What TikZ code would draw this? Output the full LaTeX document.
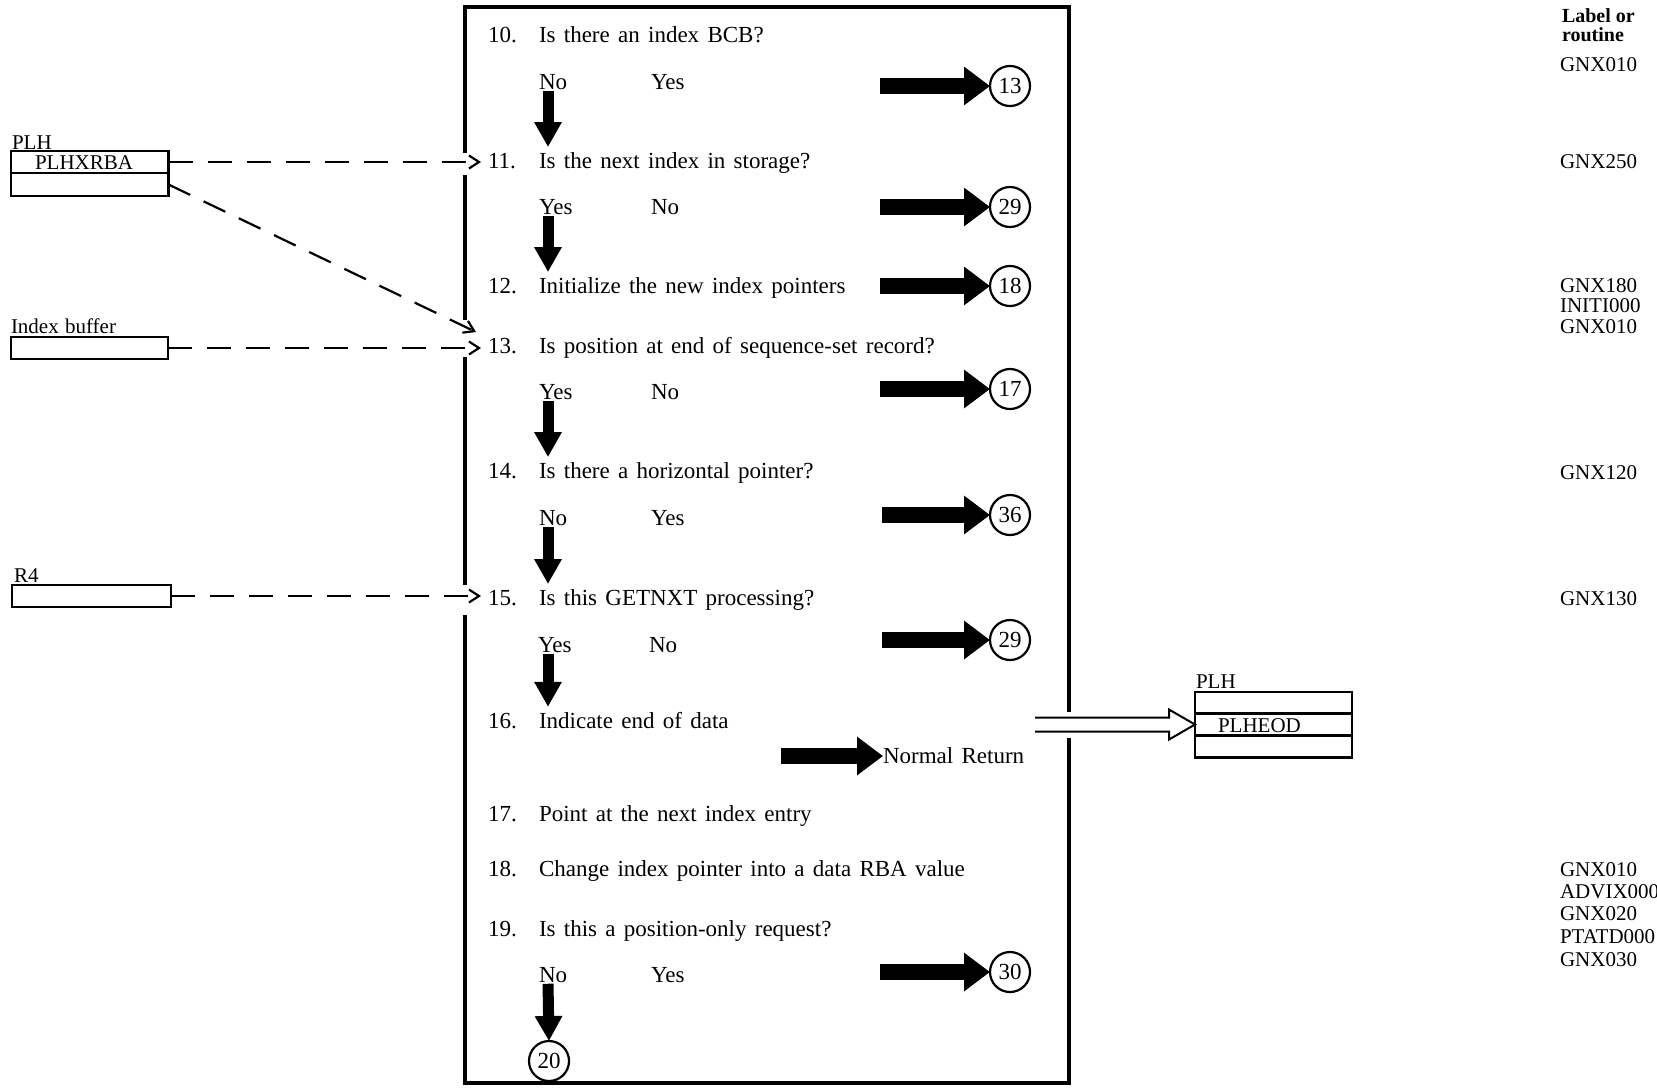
\documentclass[tikz,border=0pt]{standalone}
\usepackage{fontspec}
\setmainfont{Liberation Serif}
\usetikzlibrary{arrows.meta,calc}

\newcommand\stepfont{\fontsize{11.5}{13}\selectfont\spaceskip=0.36em\relax}
\newcommand\datafont{\fontsize{10.5}{12}\selectfont}
\newcommand\widedatafont{\fontsize{10.5}{12}\selectfont\spaceskip=0.3em\relax}
\newcommand\routinefont{\fontsize{10.5}{12}\selectfont}
\newcommand\headfont{\bfseries\fontsize{10}{10}\selectfont}

\begin{document}
\begin{tikzpicture}[x=0.5pt,y=-0.5pt,
  every node/.style={inner sep=0pt, outer sep=0pt},
  steptext/.style={anchor=base west, font=\stepfont},
  answer/.style={anchor=base west, font=\stepfont},
  routine/.style={anchor=base west, font=\routinefont},
  marker/.style={circle, draw, line width=1.1pt, minimum size=20pt, font=\stepfont},
  frameline/.style={line width=1.7pt},
  flowdown/.style={line width=5.5pt, shorten <=0.5pt, shorten >=2.5pt,
    -{Triangle[length=12.5pt,width=13pt]}},
  flowright/.style={line width=8pt, -{Triangle[length=13pt,width=18.5pt]}},
  dataline/.style={line width=1.1pt, dash pattern=on 12pt off 7.5pt,
    -{Straight Barb[length=5pt,width=6.5pt]}},
  databox/.style={draw, line width=1.2pt, anchor=north west},
  hollow/.style={line width=1pt, line join=miter}
]
\useasboundingbox (0,0) rectangle (1657,1089);
\clip (0,0) rectangle (1657,1089);

% ---------- frame of the procedure box ----------
\coordinate (tl) at (465,7);
\coordinate (tr) at (1069,7);
\coordinate (bl) at (465,1083);
\coordinate (br) at (1069,1083);
\draw[frameline] (tl |- 0,153) -- (tl) -- (tr) -- (tr |- 0,712);
\draw[frameline] (tr |- 0,738) -- (br) -- (bl) -- (bl |- 0,615);
\draw[frameline] (tl |- 0,175) -- (tl |- 0,320);
\draw[frameline] (tl |- 0,357) -- (tl |- 0,585);

% ---------- steps ----------
\node[steptext] (s10) at (488,42)  {\makebox[25.5pt][l]{10.}Is there an index BCB?};
\node[steptext] (s11) at (488,168) {\makebox[25.5pt][l]{11.}Is the next index in storage?};
\node[steptext] (s12) at (488,293) {\makebox[25.5pt][l]{12.}Initialize the new index pointers};
\node[steptext] (s13) at (488,353) {\makebox[25.5pt][l]{13.}Is position at end of sequence-set record?};
\node[steptext] (s14) at (488,478) {\makebox[25.5pt][l]{14.}Is there a horizontal pointer?};
\node[steptext] (s15) at (488,605) {\makebox[25.5pt][l]{15.}Is this GETNXT processing?};
\node[steptext] (s16) at (488,728) {\makebox[25.5pt][l]{16.}Indicate end of data};
\node[steptext] (s17) at (488,821) {\makebox[25.5pt][l]{17.}Point at the next index entry};
\node[steptext] (s18) at (488,876) {\makebox[25.5pt][l]{18.}Change index pointer into a data RBA value};
\node[steptext] (s19) at (488,936) {\makebox[25.5pt][l]{19.}Is this a position-only request?};

% ---------- decision answers ----------
\node[answer] (a10) at (539,89.5)  {No};  \node[answer] (b10) at (651,89.5)  {Yes};
\node[answer] (a11) at (539,214.5) {Yes}; \node[answer] (b11) at (651,214.5) {No};
\node[answer] (a13) at (539,399.5) {Yes}; \node[answer] (b13) at (651,399.5) {No};
\node[answer] (a14) at (539,525.5) {No};  \node[answer] (b14) at (651,525.5) {Yes};
\node[answer] (a15) at (538,652.5) {Yes}; \node[answer] (b15) at (649,652.5) {No};
\node[answer] (a19) at (539,982.5) {No};  \node[answer] (b19) at (651,982.5) {Yes};

% ---------- connector markers ----------
\node[marker] (c13)  at (1010,86)  {13};
\node[marker] (c29a) at (1010,207) {29};
\node[marker] (c18)  at (1010,286) {18};
\node[marker] (c17)  at (1010,389) {17};
\node[marker] (c36)  at (1010,515) {36};
\node[marker] (c29b) at (1010,640) {29};
\node[marker] (c30)  at (1010,972) {30};
\node[marker] (c20)  at (549,1061) {20};

% ---------- main flow (down arrows) ----------
\coordinate (col) at (548,0);
\draw[flowdown] (col |- a10.south) -- (col |- s11.north);
\draw[flowdown] (col |- a11.south) -- (col |- s12.north);
\draw[flowdown] (col |- a13.south) -- (col |- s14.north);
\draw[flowdown] (col |- a14.south) -- (col |- s15.north);
\draw[flowdown] (col |- a15.south) -- (col |- s16.north);
\draw[flowdown, shorten >=0pt] (col |- a19.south) -- (c20.north);

% ---------- branch arrows ----------
\coordinate (rstart) at (880,0);
\coordinate (rstartb) at (882,0);
\draw[flowright] (rstart |- c13.west)   -- (c13.west);
\draw[flowright] (rstart |- c29a.west)  -- (c29a.west);
\draw[flowright] (rstart |- c18.west)   -- (c18.west);
\draw[flowright] (rstart |- c17.west)   -- (c17.west);
\draw[flowright] (rstartb |- c36.west)  -- (c36.west);
\draw[flowright] (rstartb |- c29b.west) -- (c29b.west);
\draw[flowright] (rstart |- c30.west)   -- (c30.west);

\node[answer, anchor=west] (nr) at (883,756) {Normal Return};
\coordinate (nrstart) at (781,0);
\draw[flowright] (nrstart |- nr.west) -- (nr.west);

% ---------- input data areas ----------
\node[anchor=base west, font=\datafont] (plhlbl) at (12,149) {PLH};
\node[databox, minimum width=78.75pt, minimum height=11pt] (plhx) at (11,151) {};
\node[databox, minimum width=78.75pt, minimum height=11.5pt] (plhy) at (11,173) {};
\node[anchor=base west, font=\datafont] (plhxt) at (35,169) {PLHXRBA};

\node[anchor=base west, font=\widedatafont] (iblbl) at (11,333) {Index buffer};
\node[databox, minimum width=78.5pt, minimum height=11pt] (ibuf) at (11,337) {};

\node[anchor=base west, font=\datafont] (r4lbl) at (14,582) {R4};
\node[databox, minimum width=79.5pt, minimum height=11pt] (r4) at (12,585) {};

\coordinate (inx) at (481,0);
\coordinate (in13) at (476,332);
\draw[dataline] (plhx.east) -- (plhx.east -| inx);
\draw[dataline] (plhy.east) -- (in13);
\draw[dataline] (ibuf.east) -- (ibuf.east -| inx);
\draw[dataline] (r4.east) -- (r4.east -| inx);

% ---------- output data area ----------
\node[anchor=base west, font=\datafont] (eodlbl) at (1196,688) {PLH};
\node[databox, minimum width=78.5pt, minimum height=10.75pt] (eoda) at (1195,692) {};
\node[databox, minimum width=78.5pt, minimum height=11pt] (eod) at (1195,713.5) {};
\node[databox, minimum width=78.5pt, minimum height=11pt] (eodc) at (1195,735.5) {};
\node[anchor=base west, font=\datafont] (eodt) at (1218,732) {PLHEOD};

% hollow arrow out of step 16
\draw[hollow] (eod.west) ++(-160,-7) -- ++(134,0) -- ++(0,-8) -- (eod.west)
  -- ++(-26,15) -- ++(0,-8) -- ++(-134,0);

% ---------- label / routine column ----------
\node[anchor=base west, font=\headfont] (hd1) at (1562,22) {Label or};
\node[anchor=base west, font=\headfont] (hd2) at (1562,41) {routine};
\node[routine] (r10)  at (1560,71)   {GNX010};
\node[routine] (r11)  at (1560,168)  {GNX250};
\node[routine] (r12a) at (1560,292.5){GNX180};
\node[routine] (r12b) at (1560,312.5){INITI000};
\node[routine] (r12c) at (1560,333)  {GNX010};
\node[routine] (r14)  at (1560,479)  {GNX120};
\node[routine] (r15)  at (1560,605.5){GNX130};
\node[routine] (r18a) at (1560,876)  {GNX010};
\node[routine] (r18b) at (1560,898.5){ADVIX000};
\node[routine] (r18c) at (1560,920.5){GNX020};
\node[routine] (r18d) at (1560,943.5){PTATD000};
\node[routine] (r18e) at (1560,966)  {GNX030};
\end{tikzpicture}
\end{document}
